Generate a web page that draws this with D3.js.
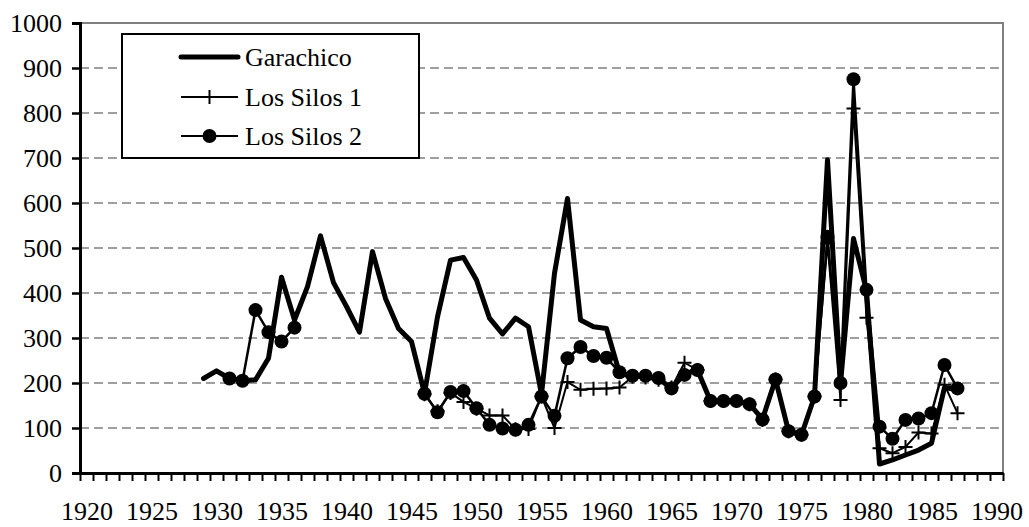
<!DOCTYPE html>
<html>
<head>
<meta charset="utf-8">
<script src="https://cdn.jsdelivr.net/npm/d3@7"></script>
<style>
  html, body { margin: 0; padding: 0; background: #fff; }
  svg { display: block; }
  svg text { font-family: "Liberation Serif"; fill: #000; }
</style>
</head>
<body>
<svg id="chart" width="1029" height="527"></svg>
<script>
// ---- data ----
const years = [1929,1930,1931,1932,1933,1934,1935,1936,1937,1938,1939,1940,1941,1942,1943,1944,1945,1946,1947,1948,1949,1950,1951,1952,1953,1954,1955,1956,1957,1958,1959,1960,1961,1962,1963,1964,1965,1966,1967,1968,1969,1970,1971,1972,1973,1974,1975,1976,1977,1978,1979,1980,1981,1982,1983,1984,1985,1986,1987];

const garachico = [210,227,210,205,207,255,435,340,414,527,423,370,313,492,388,321,292,177,347,473,479,429,344,309,344,325,175,444,610,340,325,321,222,215,215,210,188,220,229,160,160,160,153,120,208,93,85,170,696,199,521,405,20,29,40,51,66,190,185];

const losSilos1 = [null,null,null,null,null,null,null,null,null,null,null,null,null,null,null,null,null,175,137,178,158,143,128,128,97,98,170,100,202,185,187,188,190,214,212,207,190,245,229,160,160,160,153,118,208,93,85,170,510,162,810,345,55,44,58,90,88,196,133];

const losSilos2 = [null,null,210,205,362,313,292,323,null,null,null,null,null,null,null,null,null,176,135,180,182,144,107,99,96,107,170,127,255,280,260,256,224,216,216,211,188,218,229,160,160,160,153,119,208,93,85,170,525,200,875,407,103,76,118,121,133,240,188];

const seriesNames = ["Garachico", "Los Silos 1", "Los Silos 2"];
const xTickLabels = ["1920","1925","1930","1935","1940","1945","1950","1955","1960","1965","1970","1975","1980","1985","1990"];
const yTicks = [0,100,200,300,400,500,600,700,800,900,1000];

// ---- layout ----
const svg = d3.select("#chart");
const plotL = 80, plotR = 1003, plotT = 23, plotB = 473;
const fontSize = 26;
const fontFam = "Liberation Serif";

const x = d3.scaleLinear().domain([1919.5, 1990.5]).range([plotL, plotR]);
const y = d3.scaleLinear().domain([0, 1000]).range([plotB, plotT]);

// gridlines
svg.append("g").selectAll("line")
  .data(yTicks.filter(v => v > 0 && v < 1000))
  .join("line")
  .attr("x1", plotL).attr("x2", plotR)
  .attr("y1", d => y(d)).attr("y2", d => y(d))
  .attr("stroke", "#808080").attr("stroke-width", 1.5)
  .attr("stroke-dasharray", "9,5");

// plot border (top, right)
svg.append("path")
  .attr("d", `M${plotL},${y(1000)}H${plotR}V${plotB}`)
  .attr("fill", "none").attr("stroke", "#808080").attr("stroke-width", 2);

// y axis
const yAxis = d3.axisLeft(y).tickValues(yTicks).tickSize(8).tickPadding(10).tickFormat(d3.format("d"));
const gy = svg.append("g").attr("transform", `translate(${plotL},0)`).call(yAxis);
gy.select(".domain").attr("stroke", "#000").attr("stroke-width", 3);
gy.selectAll(".tick line").attr("stroke", "#000").attr("stroke-width", 2.5);
gy.selectAll("text").style("font-family", fontFam).style("font-size", fontSize + "px").attr("fill", "#000");

// x axis: tick marks at category boundaries
const boundaries = d3.range(1919.5, 1991, 1);
const xAxisTicks = d3.axisBottom(x).tickValues(boundaries).tickSize(8).tickFormat("").tickSizeOuter(0);
const gx = svg.append("g").attr("transform", `translate(0,${plotB})`).call(xAxisTicks);
gx.select(".domain").attr("stroke", "#000").attr("stroke-width", 3);
gx.selectAll(".tick line").attr("stroke", "#000").attr("stroke-width", 2);

// x labels at category centres
const xAxisLabels = d3.axisBottom(x).tickValues(xTickLabels.map(Number)).tickSize(0).tickPadding(29).tickFormat(d3.format("d"));
const gxl = svg.append("g").attr("transform", `translate(0,${plotB})`).call(xAxisLabels);
gxl.select(".domain").remove();
gxl.selectAll("text").style("font-family", fontFam).style("font-size", fontSize + "px").attr("fill", "#000");

// ---- series ----
const mk = vals => years.map((yr, i) => ({ year: yr, v: vals[i] }));
const line = d3.line().defined(d => d.v != null).x(d => x(d.year)).y(d => y(d.v));

svg.append("path").datum(mk(garachico))
  .attr("d", line).attr("fill", "none").attr("stroke", "#000")
  .attr("stroke-width", 5).attr("stroke-linejoin", "round").attr("stroke-linecap", "round");

svg.append("path").datum(mk(losSilos1))
  .attr("d", line).attr("fill", "none").attr("stroke", "#000")
  .attr("stroke-width", 2).attr("stroke-linejoin", "round");

const crossPath = (cx, cy, s) => `M${cx - s},${cy}H${cx + s}M${cx},${cy - s}V${cy + s}`;
svg.append("g").selectAll("path")
  .data(mk(losSilos1).filter(d => d.v != null))
  .join("path")
  .attr("d", d => crossPath(x(d.year), y(d.v), 7))
  .attr("stroke", "#000").attr("stroke-width", 2).attr("fill", "none");

svg.append("path").datum(mk(losSilos2))
  .attr("d", line).attr("fill", "none").attr("stroke", "#000")
  .attr("stroke-width", 2.5).attr("stroke-linejoin", "round");

svg.append("g").selectAll("circle")
  .data(mk(losSilos2).filter(d => d.v != null))
  .join("circle")
  .attr("cx", d => x(d.year)).attr("cy", d => y(d.v)).attr("r", 7)
  .attr("fill", "#000");

// ---- legend ----
const lg = svg.append("g");
lg.append("rect").attr("x", 122).attr("y", 34).attr("width", 297).attr("height", 124)
  .attr("fill", "#fff").attr("stroke", "#000").attr("stroke-width", 2);
const rowsY = [57, 97, 136];
seriesNames.forEach((name, i) => {
  const ry = rowsY[i];
  lg.append("line").attr("x1", 181).attr("x2", 238).attr("y1", ry).attr("y2", ry)
    .attr("stroke", "#000").attr("stroke-width", i === 0 ? 5 : 2).attr("stroke-linecap", i === 0 ? "round" : "butt");
  if (i === 1) lg.append("path").attr("d", crossPath(209.5, ry, 7)).attr("stroke", "#000").attr("stroke-width", 2);
  if (i === 2) lg.append("circle").attr("cx", 209.5).attr("cy", ry).attr("r", 7).attr("fill", "#000");
  lg.append("text").attr("x", 245).attr("y", ry).attr("dy", "0.35em")
    .style("font-family", fontFam).style("font-size", fontSize + "px").text(name);
});
</script>
</body>
</html>
